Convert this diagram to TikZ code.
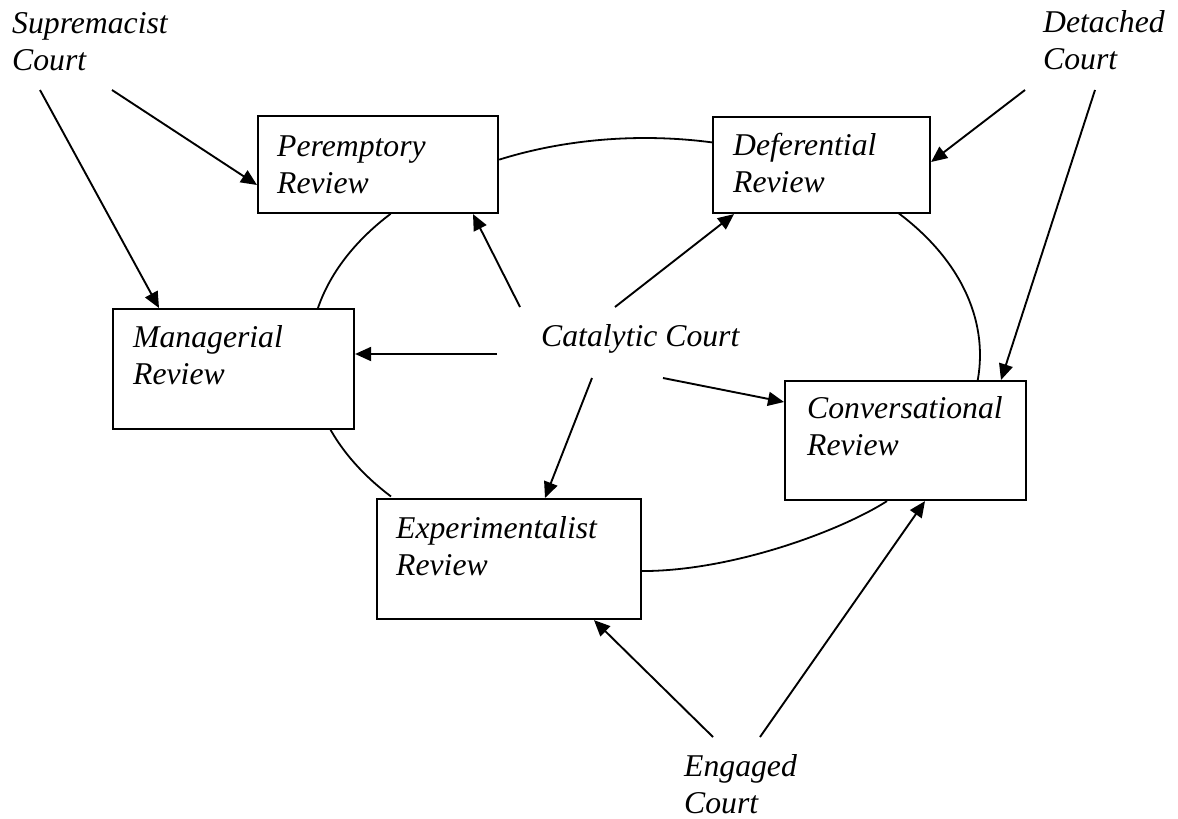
\documentclass[tikz,border=0pt]{standalone}
\usepackage{fontspec}
\setmainfont{Liberation Serif}
\usetikzlibrary{arrows.meta,backgrounds}
\begin{document}
\begin{tikzpicture}[x=1pt,y=-1pt,
  box/.style={draw, line width=2.1pt, rectangle, anchor=north west, inner sep=0pt, fill=white},
  lbl/.style={font=\itshape\fontsize{31.7}{37}\selectfont, align=left, inner sep=0pt, anchor=base west},
  arr/.style={line width=1.9pt, -{Triangle[length=16pt,width=14pt]}},
  link/.style={line width=1.8pt},
  ell/.style={x radius=335pt, y radius=217pt}]
\useasboundingbox (0,0) rectangle (1178,819);

% boxes
\node[box, minimum width=240, minimum height=97] (per) at (257,115) {};
\node[box, minimum width=217, minimum height=96] (def) at (712,116) {};
\node[box, minimum width=241, minimum height=120] (man) at (112,308) {};
\node[box, minimum width=241, minimum height=119] (conv) at (784,380) {};
\node[box, minimum width=264, minimum height=120] (exp) at (376,498) {};

% box texts (anchored at the baseline of the last line)
\node[lbl] (perT) at (277,193) {Peremptory\\Review};
\node[lbl] (defT) at (733,192) {Deferential\\Review};
\node[lbl] (manT) at (133,384) {Managerial\\Review};
\node[lbl] (convT) at (807,455) {Conversational\\Review};
\node[lbl] (expT) at (396,575) {Experimentalist\\Review};

% court texts
\node[lbl] (sup) at (12,70) {Supremacist\\Court};
\node[lbl] (det) at (1043,69) {Detached\\Court};
\node[lbl] (cat) at (541,346) {Catalytic Court};
\node[lbl] (eng) at (684,813) {Engaged\\Court};

% ring of curves
\coordinate (ec) at (645,355);
\begin{scope}[on background layer]
\draw[link] ([shift={(139.4:335pt and 217pt)}]ec) arc[ell, start angle=139.4, end angle=167.7];
\draw[link] ([shift={(199.3:335pt and 217pt)}]ec) arc[ell, start angle=199.3, end angle=220.7];
\draw[link] ([shift={(-6.7:335pt and 217pt)}]ec) arc[ell, start angle=-6.7, end angle=41.8];
\draw[link] ([shift={(78.3:335pt and 217pt)}]ec) arc[ell, start angle=78.3, end angle=115.8];
\coordinate (e1) at ([shift={(0,12)}]exp.east);
\coordinate (e2) at ([shift={(103,0)}]conv.south west);
\draw[link] (e1) .. controls ([shift={(90,0)}]e1) and ([shift={(-47,30)}]e2) .. (e2);
\end{scope}

% arrow start points
\coordinate (s1) at (40,90);
\coordinate (s2) at (112,90);
\coordinate (s3) at (1025,90);
\coordinate (s4) at (1095,90);
\coordinate (s5) at (520,307);
\coordinate (s6) at (615,307);
\coordinate (s7) at (497,354);
\coordinate (s8) at (592,378);
\coordinate (s9) at (663,378);
\coordinate (s10) at (713,737);
\coordinate (s11) at (760,737);

% arrows
\draw[arr] (s1) -- ([shift={(47,0)}]man.north west);
\draw[arr] (s2) -- ([shift={(0,70)}]per.north west);
\draw[arr] (s3) -- ([shift={(0,46)}]def.north east);
\draw[arr] (s4) -- ([shift={(217,0)}]conv.north west);
\draw[arr] (s5) -- ([shift={(216,0)}]per.south west);
\draw[arr] (s6) -- ([shift={(22,0)}]def.south west);
\draw[arr] (s7) -- ([shift={(0,46)}]man.north east);
\draw[arr] (s8) -- ([shift={(169,0)}]exp.north west);
\draw[arr] (s9) -- ([shift={(0,22)}]conv.north west);
\draw[arr] (s10) -- ([shift={(218,0)}]exp.south west);
\draw[arr] (s11) -- ([shift={(141,0)}]conv.south west);
\end{tikzpicture}
\end{document}
